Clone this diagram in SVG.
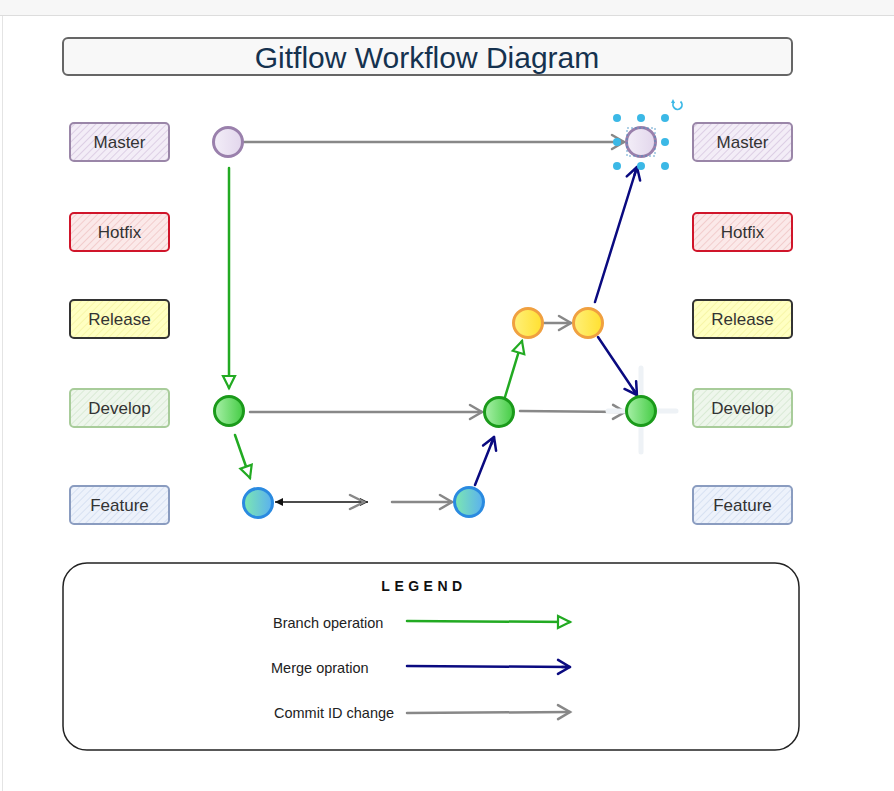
<svg xmlns="http://www.w3.org/2000/svg" width="894" height="791" viewBox="0 0 894 791">
<style>
.lbl{font-family:"Liberation Sans",Arial,sans-serif;font-size:17px;fill:#333;text-anchor:middle;dominant-baseline:central}
.lg{font-family:"Liberation Sans",Arial,sans-serif;font-size:14.5px;fill:#222}
.box{stroke-width:2}
.gray{stroke:#888;stroke-width:2.5;fill:none;stroke-linecap:round}
.green{stroke:#22aa22;stroke-width:2.5;fill:none;stroke-linecap:round}
.navy{stroke:#0a0a80;stroke-width:2.5;fill:none;stroke-linecap:round}
.sel{fill:#3bb8e6}
</style>
<defs>
<pattern id="hPurple" width="5" height="5" patternUnits="userSpaceOnUse" patternTransform="rotate(45)"><rect width="5" height="5" fill="#f3edf7"/><line x1="0" y1="0" x2="0" y2="5" stroke="#d6c6e0" stroke-width="1.5"/></pattern>
<pattern id="hRed" width="5" height="5" patternUnits="userSpaceOnUse" patternTransform="rotate(45)"><rect width="5" height="5" fill="#fbe9e9"/><line x1="0" y1="0" x2="0" y2="5" stroke="#efc4c4" stroke-width="1.5"/></pattern>
<pattern id="hYellow" width="5" height="5" patternUnits="userSpaceOnUse" patternTransform="rotate(45)"><rect width="5" height="5" fill="#ffffc2"/><line x1="0" y1="0" x2="0" y2="5" stroke="#f5f3a0" stroke-width="1.5"/></pattern>
<pattern id="hGreen" width="5" height="5" patternUnits="userSpaceOnUse" patternTransform="rotate(45)"><rect width="5" height="5" fill="#eef6ec"/><line x1="0" y1="0" x2="0" y2="5" stroke="#d2e7ce" stroke-width="1.5"/></pattern>
<pattern id="hBlue" width="5" height="5" patternUnits="userSpaceOnUse" patternTransform="rotate(45)"><rect width="5" height="5" fill="#edf2fb"/><line x1="0" y1="0" x2="0" y2="5" stroke="#d0dcf0" stroke-width="1.5"/></pattern>
<linearGradient id="gGreen" x1="0" y1="0" x2="1" y2="0"><stop offset="0" stop-color="#a8f0a8"/><stop offset="1" stop-color="#44cc44"/></linearGradient>
<linearGradient id="gBlue" x1="0" y1="0" x2="1" y2="0"><stop offset="0" stop-color="#7de8b0"/><stop offset="1" stop-color="#5ab0f0"/></linearGradient>
<linearGradient id="gYellow" x1="0" y1="0" x2="1" y2="0"><stop offset="0" stop-color="#fff07a"/><stop offset="1" stop-color="#ffe030"/></linearGradient>
<linearGradient id="gPurple" x1="0" y1="0" x2="1" y2="0"><stop offset="0" stop-color="#f3eef8"/><stop offset="1" stop-color="#e2d6ec"/></linearGradient>
<marker id="mGray" markerUnits="userSpaceOnUse" markerWidth="20" markerHeight="20" refX="14" refY="10" orient="auto"><path d="M2,3 L14,10 L2,17" fill="none" stroke="#888" stroke-width="2.5" stroke-linecap="round"/></marker>
<marker id="mGreen" markerUnits="userSpaceOnUse" markerWidth="20" markerHeight="20" refX="15" refY="10" orient="auto"><path d="M3,4 L15,10 L3,16 Z" fill="#fff" stroke="#22aa22" stroke-width="2.2"/></marker>
<marker id="mNavy" markerUnits="userSpaceOnUse" markerWidth="20" markerHeight="20" refX="15" refY="10" orient="auto"><path d="M3,3 L15,10 L3,17 M7,10 L15,10" fill="none" stroke="#0a0a80" stroke-width="2.5" stroke-linecap="round" stroke-linejoin="round"/></marker>
<marker id="mBlack" markerUnits="userSpaceOnUse" markerWidth="10" markerHeight="10" refX="8" refY="5" orient="auto-start-reverse"><path d="M0,1 L8,5 L0,9 Z" fill="#111"/></marker>
</defs>
<rect width="894" height="791" fill="#fff"/>
<g id="toolbar">
<rect x="0" y="0" width="894" height="15" fill="#f7f7f7"/>
<line x1="0" y1="15.5" x2="894" y2="15.5" stroke="#ddd"/>
<line x1="2.5" y1="16" x2="2.5" y2="791" stroke="#e4e4e4"/>
</g>
<g id="title">
<rect x="63" y="38" width="729" height="37" rx="5" fill="#f8f8f8" stroke="#666" stroke-width="2"/>
<text x="427" y="57" style="font-family:'Liberation Sans',Arial,sans-serif;font-size:30px;fill:#15324f;text-anchor:middle;dominant-baseline:central">Gitflow Workflow Diagram</text>
</g>
<g id="lbl-master-l"><rect class="box" x="70" y="123" width="99" height="38" rx="4" fill="url(#hPurple)" stroke="#9a86a8"/><text class="lbl" x="119.5" y="142">Master</text></g>
<g id="lbl-hotfix-l"><rect class="box" x="70" y="213" width="99" height="38" rx="4" fill="url(#hRed)" stroke="#d0152a"/><text class="lbl" x="119.5" y="232">Hotfix</text></g>
<g id="lbl-release-l"><rect class="box" x="70" y="300" width="99" height="38" rx="4" fill="url(#hYellow)" stroke="#333"/><text class="lbl" x="119.5" y="319">Release</text></g>
<g id="lbl-develop-l"><rect class="box" x="70" y="389" width="99" height="38" rx="4" fill="url(#hGreen)" stroke="#a8cc9a"/><text class="lbl" x="119.5" y="408">Develop</text></g>
<g id="lbl-feature-l"><rect class="box" x="70" y="486" width="99" height="38" rx="4" fill="url(#hBlue)" stroke="#8a9cc0"/><text class="lbl" x="119.5" y="505">Feature</text></g>
<g id="lbl-master-r"><rect class="box" x="693" y="123" width="99" height="38" rx="4" fill="url(#hPurple)" stroke="#9a86a8"/><text class="lbl" x="742.5" y="142">Master</text></g>
<g id="lbl-hotfix-r"><rect class="box" x="693" y="213" width="99" height="38" rx="4" fill="url(#hRed)" stroke="#d0152a"/><text class="lbl" x="742.5" y="232">Hotfix</text></g>
<g id="lbl-release-r"><rect class="box" x="693" y="300" width="99" height="38" rx="4" fill="url(#hYellow)" stroke="#333"/><text class="lbl" x="742.5" y="319">Release</text></g>
<g id="lbl-develop-r"><rect class="box" x="693" y="389" width="99" height="38" rx="4" fill="url(#hGreen)" stroke="#a8cc9a"/><text class="lbl" x="742.5" y="408">Develop</text></g>
<g id="lbl-feature-r"><rect class="box" x="693" y="486" width="99" height="38" rx="4" fill="url(#hBlue)" stroke="#8a9cc0"/><text class="lbl" x="742.5" y="505">Feature</text></g>
<g id="connectors">
<line class="gray" x1="244" y1="142" x2="624" y2="142" marker-end="url(#mGray)"/>
<line class="green" x1="229" y1="168" x2="229" y2="388" marker-end="url(#mGreen)"/>
<line class="gray" x1="250" y1="412" x2="482" y2="412" marker-end="url(#mGray)"/>
<line class="green" x1="235" y1="435" x2="250" y2="478" marker-end="url(#mGreen)"/>
<line x1="275" y1="502" x2="368" y2="502" stroke="#111" stroke-width="1.5" marker-start="url(#mBlack)" marker-end="url(#mBlack)"/>
<path class="gray" d="M350,495 L364,502 L350,509"/>
<line class="gray" x1="392" y1="502" x2="452" y2="502" marker-end="url(#mGray)"/>
<line class="navy" x1="475" y1="485" x2="494" y2="437" marker-end="url(#mNavy)"/>
<line class="green" x1="505" y1="397" x2="522" y2="341" marker-end="url(#mGreen)"/>
<line class="gray" x1="544" y1="323" x2="571" y2="323" marker-end="url(#mGray)"/>
<line class="navy" x1="595" y1="302" x2="637" y2="167" marker-end="url(#mNavy)"/>
<line class="navy" x1="598" y1="337" x2="637" y2="395" marker-end="url(#mNavy)"/>
<line class="gray" x1="520" y1="411" x2="625" y2="412" marker-end="url(#mGray)"/>
</g>
<g id="n-master1"><circle cx="228" cy="142" r="14.5" fill="url(#gPurple)" stroke="#9a80ac" stroke-width="3"/></g>
<g id="n-master2">
<circle cx="641" cy="142" r="14.5" fill="url(#gPurple)" stroke="#9a80ac" stroke-width="3"/>
<rect x="627" y="128" width="28" height="28" fill="none" stroke="#3a8ac0" stroke-width="0.8" stroke-dasharray="2,2"/>
<circle class="sel" cx="617" cy="118" r="4"/><circle class="sel" cx="641" cy="118" r="4"/><circle class="sel" cx="665" cy="118" r="4"/>
<circle class="sel" cx="617" cy="142" r="4"/><circle class="sel" cx="665" cy="142" r="4"/>
<circle class="sel" cx="617" cy="166" r="4"/><circle class="sel" cx="641" cy="166" r="4"/><circle class="sel" cx="665" cy="166" r="4"/>
<path d="M680.5,101.5 A4.5,4.5 0 1 1 674,102" fill="none" stroke="#3bb8e6" stroke-width="1.8"/>
<path d="M673,99 L675,103 L671,103 Z" fill="#3bb8e6"/>
</g>
<g id="n-develop1"><circle cx="229" cy="411" r="14.5" fill="url(#gGreen)" stroke="#1a9a1a" stroke-width="3"/></g>
<g id="n-feature1"><circle cx="258" cy="503" r="14.5" fill="url(#gBlue)" stroke="#2a8ae0" stroke-width="3"/></g>
<g id="n-feature2"><circle cx="469" cy="502" r="14.5" fill="url(#gBlue)" stroke="#2a8ae0" stroke-width="3"/></g>
<g id="n-develop2"><circle cx="499" cy="412" r="14.5" fill="url(#gGreen)" stroke="#1a9a1a" stroke-width="3"/></g>
<g id="n-release1"><circle cx="528" cy="323" r="14.5" fill="url(#gYellow)" stroke="#f0a040" stroke-width="3"/></g>
<g id="n-release2"><circle cx="588" cy="323" r="14.5" fill="url(#gYellow)" stroke="#f0a040" stroke-width="3"/></g>
<g id="n-develop3">
<path d="M641,368 L641,452 M608,411 L676,411" stroke="#eef2f6" stroke-width="5" stroke-linecap="round"/>
<circle cx="641" cy="411" r="14.5" fill="url(#gGreen)" stroke="#1a9a1a" stroke-width="3"/>
</g>
<g id="legend">
<rect x="63" y="563" width="736" height="187" rx="24" fill="#fff" stroke="#222" stroke-width="1.5"/>
<text x="424" y="591" style="font-family:'Liberation Sans',Arial,sans-serif;font-size:14px;font-weight:bold;fill:#111;text-anchor:middle;letter-spacing:4.5px">LEGEND</text>
<text class="lg" x="273" y="628">Branch operation</text>
<text class="lg" x="271" y="673">Merge opration</text>
<text class="lg" x="274" y="718">Commit ID change</text>
<line class="green" x1="407" y1="621" x2="570" y2="622" marker-end="url(#mGreen)"/>
<line class="navy" x1="407" y1="666" x2="570" y2="667" marker-end="url(#mNavy)"/>
<line class="gray" x1="407" y1="713" x2="570" y2="712" marker-end="url(#mGray)"/>
</g>
</svg>
